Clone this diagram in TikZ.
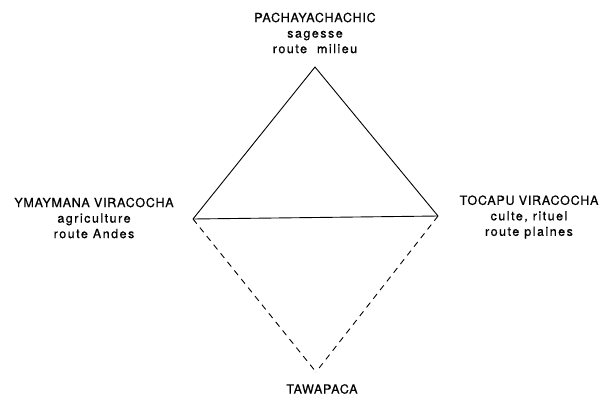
\documentclass[tikz,border=0pt]{standalone}
\usepackage{fontspec}
\setmainfont{TeX Gyre Heros}
\newfontfamily\capsfont[LetterSpace=6, FakeBold=0.6]{TeX Gyre Heros}
\newfontfamily\minfont[LetterSpace=12, FakeBold=0.6]{TeX Gyre Heros}
\begin{document}
\begin{tikzpicture}[
  x=1pt, y=-1pt,
  every node/.style={align=center, inner sep=0pt, font=\fontsize{12.5}{15.5}\selectfont},
  plein/.style={line width=0.9pt},
  tirets/.style={line width=0.9pt, dash pattern=on 6pt off 5pt}
]
  \useasboundingbox (0,0) rectangle (603,400);

  % Sommets du losange
  \coordinate (haut) at (315,67);
  \coordinate (gauche) at (193,219);
  \coordinate (droite) at (438,216);
  \coordinate (bas) at (316,372);

  % Etiquettes des sommets
  \node (pacha) at (315,33) {{\capsfont PACHAYACHACHIC}\\{\minfont sagesse}\\{\minfont route\ \ milieu}};
  \node (ymay) at (94,218) {{\capsfont YMAYMANA VIRACOCHA}\\{\minfont agriculture}\\{\minfont route Andes}};
  \node (tocapu) at (529,217) {{\capsfont TOCAPU VIRACOCHA}\\{\minfont culte, rituel}\\{\minfont route plaines}};
  \node (tawa) at (322,389) {\capsfont TAWAPACA};

  % Triangle superieur
  \draw[plein] (gauche) -- (haut) -- (droite);
  \draw[plein] (gauche) -- (droite);

  % Triangle inferieur en tirets
  \draw[tirets] (gauche) -- (bas);
  \draw[tirets] (droite) -- (bas);
\end{tikzpicture}
\end{document}
